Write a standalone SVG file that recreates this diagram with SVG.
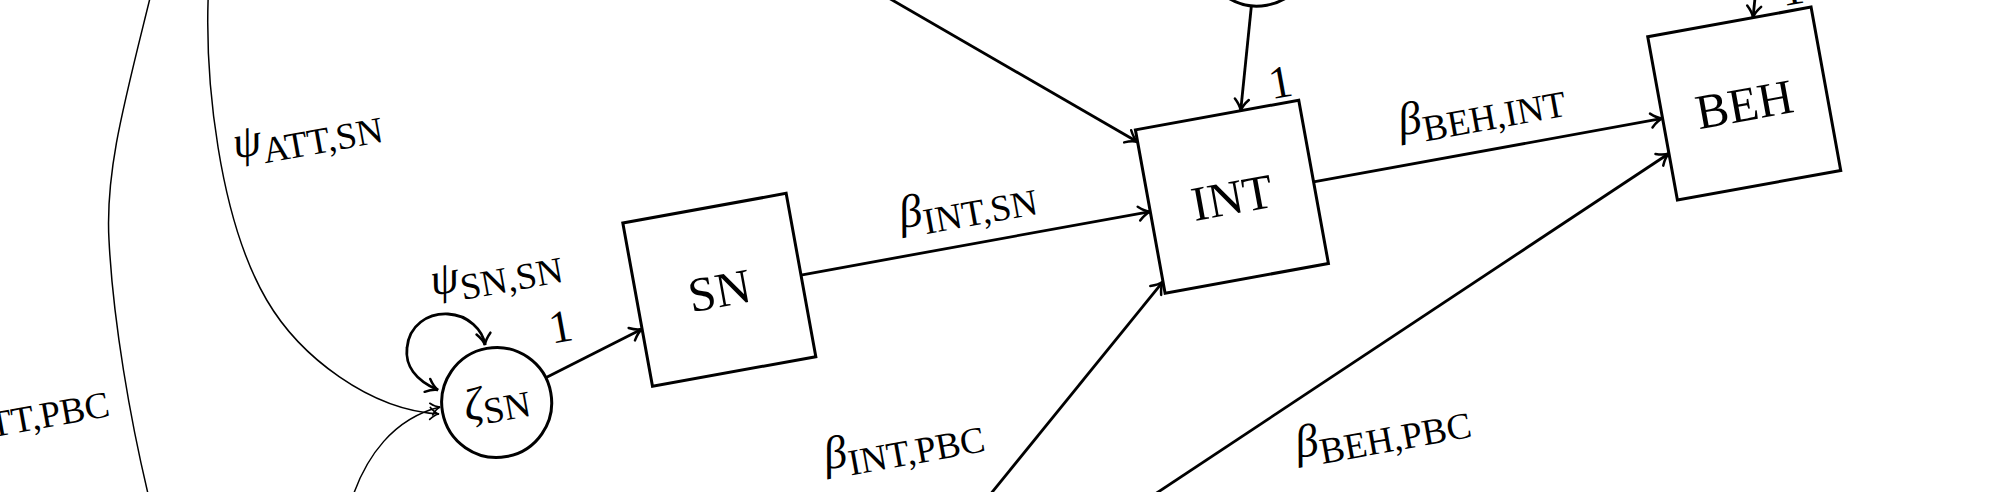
<svg xmlns="http://www.w3.org/2000/svg" width="2002" height="492" viewBox="0 0 2002 492">
<style>
.box{fill:#fff;stroke:#000;stroke-width:3}
.circ{fill:#fff;stroke:#000;stroke-width:3}
.ln{fill:none;stroke:#000;stroke-width:2.8;marker-end:url(#arr)}
.thin{fill:none;stroke:#000;stroke-width:1.5}
.t{font-family:"Liberation Serif","DejaVu Serif",serif;font-size:46px;fill:#000}
.n{font-size:49px}
.g{font-style:italic;font-size:46px}
.s{font-size:37px}
</style>
<defs>
<marker id="arr" viewBox="-14 -9 16 18" refX="0" refY="0" markerWidth="16" markerHeight="18" markerUnits="userSpaceOnUse" orient="auto-start-reverse">
<path d="M-11.5,-7 C-7,-2.8 -3,-0.7 0,0 C-3,0.7 -7,2.8 -11.5,7" fill="none" stroke="#000" stroke-width="2.5" stroke-linecap="round"/>
</marker>
<marker id="arrs" viewBox="-12 -8 14 16" refX="0" refY="0" markerWidth="14" markerHeight="16" markerUnits="userSpaceOnUse" orient="auto-start-reverse">
<path d="M-9,-6 C-5.5,-2.2 -2.2,-0.5 0,0 C-2.2,0.5 -5.5,2.2 -9,6" fill="none" stroke="#000" stroke-width="1.7" stroke-linecap="round"/>
</marker>
</defs>

<g id="connectors">
  <g transform="rotate(-10.3)">
    <path id="e-zsn-sn" class="ln" d="M469.4,469.2 L572.9,438.5"/>
    <path id="e-sn-int" class="ln" d="M738.9,413.8 L1093.9,413.8"/>
    <path id="e-int-beh" class="ln" d="M1259.9,413.8 L1614.6,413.8"/>
    <path id="e-att-int" class="ln" d="M753.6,54 L1093.9,343.2"/>
    <path id="e-pbc-int" class="ln" d="M752.6,778 L1093.9,485"/>
    <path id="e-pbc-beh" class="ln" d="M738.9,825.4 L1614.6,449.4"/>
    <path id="e-zint-int" class="ln" d="M1230.2,229.4 L1200.9,330.8"/>
    <path id="e-zbeh-beh" class="ln" d="M1750.9,229.4 L1721.6,330.8"/>
  </g>
  <path id="e-psi-sn-sn" d="M438,390 C415,380 405,365 407,348 C409,325 428,313 448,314 C468,315 483,330 485,345" fill="none" stroke="#000" stroke-width="2.8" marker-start="url(#arr)" marker-end="url(#arr)"/>
  <path id="e-psi-att-sn" class="thin" d="M209,-20 C203,80 220,220 266.7,300 C300,357 370,410 439,414" marker-end="url(#arrs)"/>
  <path id="e-psi-sn-pbc" class="thin" d="M350,505 C365,455 395,418 440,407" marker-end="url(#arrs)"/>
  <path id="e-psi-att-pbc" class="thin" d="M152,-10 C125,100 105,170 109,240 C113,320 130,420 150,502"/>
</g>

<g id="labels" class="t" transform="rotate(-10.3)">
  <text x="203" y="198"><tspan class="g">ψ</tspan><tspan class="s" dy="10">ATT,SN</tspan></text>
  <text x="35" y="419" text-anchor="end"><tspan class="g">ψ</tspan><tspan class="s" dy="10">ATT,PBC</tspan></text>
  <text x="373" y="368"><tspan class="g">ψ</tspan><tspan class="s" dy="10">SN,SN</tspan></text>
  <text x="493" y="437" text-anchor="middle">1</text>
  <text x="846" y="386"><tspan class="g">β</tspan><tspan class="s" dy="10">INT,SN</tspan></text>
  <text x="729" y="610"><tspan class="g">β</tspan><tspan class="s" dy="10">INT,PBC</tspan></text>
  <text x="1354" y="384"><tspan class="g">β</tspan><tspan class="s" dy="10">BEH,INT</tspan></text>
  <text x="1195" y="683"><tspan class="g">β</tspan><tspan class="s" dy="10">BEH,PBC</tspan></text>
  <text x="1245" y="325" text-anchor="middle">1</text>
  <text x="1765" y="325" text-anchor="middle">1</text>
</g>

<g id="node-zeta-sn" transform="rotate(-10.3)">
  <circle class="circ" cx="416.7" cy="484.8" r="55"/>
  <text class="t" x="416.7" y="498" text-anchor="middle"><tspan class="g">ζ</tspan><tspan class="s" dy="6">SN</tspan></text>
</g>
<g id="node-zeta-int" transform="rotate(-10.3)">
  <circle class="circ" cx="1245.5" cy="176.6" r="55"/>
</g>
<g id="node-sn" transform="rotate(-10.3)">
  <rect class="box" x="572.9" y="330.8" width="166" height="166"/>
  <text class="t n" x="655.9" y="431" text-anchor="middle">SN</text>
</g>
<g id="node-int" transform="rotate(-10.3)">
  <rect class="box" x="1093.9" y="330.8" width="166" height="166"/>
  <text class="t n" x="1176.9" y="431" text-anchor="middle">INT</text>
</g>
<g id="node-beh" transform="rotate(-10.3)">
  <rect class="box" x="1614.6" y="330.8" width="166" height="166"/>
  <text class="t n" x="1697.6" y="431" text-anchor="middle">BEH</text>
</g>
</svg>
